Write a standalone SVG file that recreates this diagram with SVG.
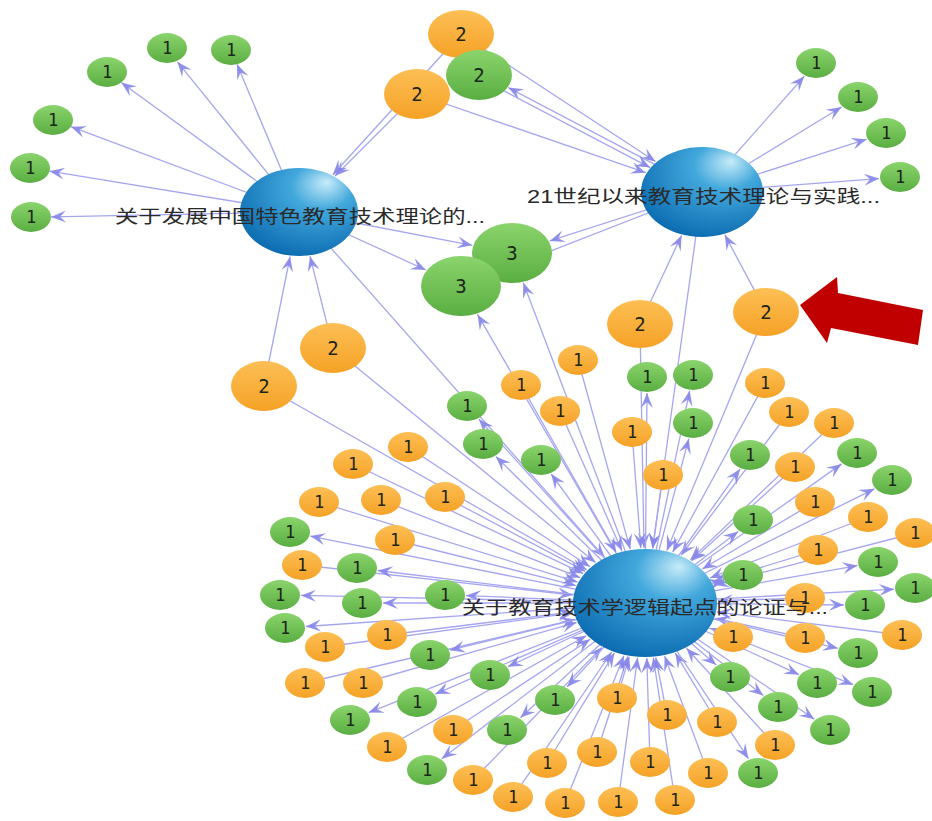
<svg xmlns="http://www.w3.org/2000/svg" width="932" height="821" viewBox="0 0 932 821">
<defs>
<radialGradient id="bg" cx="0.62" cy="0.3" r="0.75" fx="0.74" fy="0.16">
<stop offset="0" stop-color="#c8ecf9"/><stop offset="0.35" stop-color="#42a8dc"/><stop offset="1" stop-color="#0a6ab0"/>
</radialGradient>
<linearGradient id="gg" x1="0" y1="0" x2="0" y2="1"><stop offset="0" stop-color="#8ad46c"/><stop offset="1" stop-color="#5aae42"/></linearGradient>
<linearGradient id="og" x1="0" y1="0" x2="0" y2="1"><stop offset="0" stop-color="#fdbf55"/><stop offset="1" stop-color="#f5a226"/></linearGradient>
<marker id="ah" viewBox="-16 -7 17 14" refX="0" refY="0" markerWidth="17" markerHeight="14" markerUnits="userSpaceOnUse" orient="auto">
<path d="M0,0 L-15,-6 L-9,0 L-15,6 Z" fill="#8686e8" fill-opacity="0.9"/>
</marker>
<style>
.e line{stroke:#a6a6f0;stroke-width:1.3;fill:none;marker-end:url(#ah)}
.g ellipse{fill:url(#gg)}
.o ellipse{fill:url(#og)}
.b ellipse{fill:url(#bg)}
.g text,.o text{font-family:"DejaVu Sans Mono","Liberation Mono",monospace;font-size:17px;fill:#1d261a;text-anchor:middle}
.big text{font-size:19px}
.lbl{font-family:"Liberation Sans","Noto Sans CJK SC",sans-serif;font-size:18px;fill:#2a2a2a}
</style>
</defs>
<rect width="932" height="821" fill="#ffffff"/>
<g id="connectors" class="e">
<line x1="299" y1="212" x2="177.4" y2="61.8"/>
<line x1="299" y1="212" x2="237" y2="64.3"/>
<line x1="299" y1="212" x2="121.3" y2="82.5"/>
<line x1="299" y1="212" x2="70.9" y2="126.7"/>
<line x1="299" y1="212" x2="49.5" y2="171.2"/>
<line x1="299" y1="212" x2="51" y2="216.9"/>
<line x1="299" y1="212" x2="472.3" y2="245.3"/>
<line x1="299" y1="212" x2="425.9" y2="270"/>
<line x1="299" y1="212" x2="604.5" y2="557.2"/>
<line x1="264" y1="386" x2="290.1" y2="256.5"/>
<line x1="264" y1="386" x2="586.8" y2="569.8"/>
<line x1="333" y1="348" x2="310" y2="256.2"/>
<line x1="333" y1="348" x2="595.5" y2="562.6"/>
<line x1="417" y1="94" x2="335" y2="176"/>
<line x1="417" y1="94" x2="645.8" y2="172.7"/>
<line x1="461" y1="34" x2="332.8" y2="174.8"/>
<line x1="461" y1="34" x2="655.5" y2="161.5"/>
<line x1="703.2" y1="189.8" x2="508.2" y2="87.5"/>
<line x1="477.8" y1="77.2" x2="650.2" y2="167.6"/>
<line x1="640" y1="324" x2="681.6" y2="235.4"/>
<line x1="640" y1="324" x2="644" y2="548"/>
<line x1="766" y1="312" x2="724.8" y2="234.8"/>
<line x1="766" y1="312" x2="666.8" y2="550.5"/>
<line x1="702" y1="192" x2="549.7" y2="240.9"/>
<line x1="702" y1="192" x2="497.4" y2="271.8"/>
<line x1="702" y1="192" x2="804.3" y2="76.3"/>
<line x1="702" y1="192" x2="841.6" y2="107"/>
<line x1="702" y1="192" x2="866.6" y2="139.2"/>
<line x1="702" y1="192" x2="879.1" y2="178.6"/>
<line x1="702" y1="192" x2="652.6" y2="548.3"/>
<line x1="645" y1="603" x2="523.3" y2="282.8"/>
<line x1="645" y1="603" x2="477.5" y2="314.4"/>
<line x1="578" y1="360" x2="630.2" y2="549.2"/>
<line x1="521" y1="385" x2="616.2" y2="552.4"/>
<line x1="560" y1="411" x2="621.9" y2="550.8"/>
<line x1="632" y1="432" x2="640.8" y2="548.1"/>
<line x1="663" y1="475" x2="652.7" y2="548.3"/>
<line x1="765" y1="383" x2="672.7" y2="552.1"/>
<line x1="789" y1="412" x2="681.1" y2="555.2"/>
<line x1="834" y1="423" x2="690.3" y2="559.9"/>
<line x1="795" y1="467" x2="691.6" y2="560.7"/>
<line x1="815" y1="502" x2="702.3" y2="569"/>
<line x1="868" y1="517" x2="710" y2="577.9"/>
<line x1="915" y1="533" x2="714.1" y2="585.1"/>
<line x1="818" y1="550" x2="712.6" y2="582.3"/>
<line x1="805" y1="598" x2="717.9" y2="600.7"/>
<line x1="902" y1="635" x2="717" y2="612"/>
<line x1="733" y1="637" x2="710" y2="628.1"/>
<line x1="805" y1="638" x2="715.1" y2="618.3"/>
<line x1="775" y1="745" x2="686.5" y2="648.3"/>
<line x1="717" y1="722" x2="675.3" y2="653.1"/>
<line x1="667" y1="715" x2="655.7" y2="657.4"/>
<line x1="617" y1="698" x2="629.2" y2="656.7"/>
<line x1="597" y1="752" x2="627.8" y2="656.5"/>
<line x1="650" y1="762" x2="646.8" y2="658"/>
<line x1="708" y1="773" x2="664.6" y2="656"/>
<line x1="565" y1="803" x2="623.9" y2="655.7"/>
<line x1="618" y1="802" x2="637.6" y2="657.7"/>
<line x1="675" y1="800" x2="653.3" y2="657.7"/>
<line x1="513" y1="797" x2="611.7" y2="652"/>
<line x1="473" y1="780" x2="601.9" y2="647.4"/>
<line x1="547" y1="763" x2="614.4" y2="652.9"/>
<line x1="453" y1="730" x2="590.2" y2="639.3"/>
<line x1="387" y1="747" x2="586.3" y2="635.7"/>
<line x1="363" y1="683" x2="576.7" y2="622.4"/>
<line x1="305" y1="683" x2="575.3" y2="619.4"/>
<line x1="325" y1="647" x2="573.2" y2="612.9"/>
<line x1="387" y1="635" x2="573" y2="611.9"/>
<line x1="302" y1="565" x2="572.8" y2="595"/>
<line x1="395" y1="540" x2="575.8" y2="585.6"/>
<line x1="319" y1="502" x2="577.5" y2="582.1"/>
<line x1="381" y1="500" x2="580.2" y2="577.7"/>
<line x1="445" y1="497" x2="585.3" y2="571.4"/>
<line x1="353" y1="464" x2="583.3" y2="573.6"/>
<line x1="408" y1="447" x2="590" y2="566.8"/>
<line x1="645" y1="603" x2="478.9" y2="419.2"/>
<line x1="645" y1="603" x2="495.9" y2="456.6"/>
<line x1="645" y1="603" x2="551.2" y2="474"/>
<line x1="645" y1="603" x2="647" y2="393"/>
<line x1="645" y1="603" x2="689.7" y2="390.8"/>
<line x1="645" y1="603" x2="688.8" y2="438.7"/>
<line x1="645" y1="603" x2="740" y2="469.1"/>
<line x1="645" y1="603" x2="841.6" y2="463.9"/>
<line x1="645" y1="603" x2="874.4" y2="488.8"/>
<line x1="645" y1="603" x2="738.2" y2="531.4"/>
<line x1="645" y1="603" x2="857.5" y2="565.6"/>
<line x1="645" y1="603" x2="723.3" y2="580.6"/>
<line x1="645" y1="603" x2="894.1" y2="589.2"/>
<line x1="645" y1="603" x2="844" y2="605"/>
<line x1="645" y1="603" x2="837.9" y2="648.3"/>
<line x1="645" y1="603" x2="716.2" y2="665"/>
<line x1="645" y1="603" x2="799.1" y2="674.7"/>
<line x1="645" y1="603" x2="853.3" y2="684.7"/>
<line x1="645" y1="603" x2="763.3" y2="695.5"/>
<line x1="645" y1="603" x2="814.4" y2="719.3"/>
<line x1="645" y1="603" x2="748.5" y2="758.7"/>
<line x1="645" y1="603" x2="567.1" y2="686.9"/>
<line x1="645" y1="603" x2="520.4" y2="717.7"/>
<line x1="645" y1="603" x2="441.8" y2="758.7"/>
<line x1="645" y1="603" x2="368.6" y2="712.6"/>
<line x1="645" y1="603" x2="435.2" y2="694.1"/>
<line x1="645" y1="603" x2="507.9" y2="666.7"/>
<line x1="645" y1="603" x2="450" y2="650.2"/>
<line x1="645" y1="603" x2="305.9" y2="626.5"/>
<line x1="645" y1="603" x2="466" y2="595.6"/>
<line x1="645" y1="603" x2="383" y2="603"/>
<line x1="645" y1="603" x2="301" y2="595.4"/>
<line x1="645" y1="603" x2="377.7" y2="570.5"/>
<line x1="645" y1="603" x2="310.3" y2="536.1"/>
</g>
<g id="na1" class="g" transform="translate(167,48)"><ellipse rx="20" ry="15"/><text y="6">1</text></g>
<g id="na2" class="g" transform="translate(231,50)"><ellipse rx="20" ry="15"/><text y="6">1</text></g>
<g id="na3" class="g" transform="translate(107,72)"><ellipse rx="20" ry="15"/><text y="6">1</text></g>
<g id="na4" class="g" transform="translate(53,120)"><ellipse rx="20" ry="15"/><text y="6">1</text></g>
<g id="na5" class="g" transform="translate(30,168)"><ellipse rx="20" ry="15"/><text y="6">1</text></g>
<g id="na6" class="g" transform="translate(31,217)"><ellipse rx="20" ry="15"/><text y="6">1</text></g>
<g id="nb1" class="g" transform="translate(816,63)"><ellipse rx="20" ry="15"/><text y="6">1</text></g>
<g id="nb2" class="g" transform="translate(858,97)"><ellipse rx="20" ry="15"/><text y="6">1</text></g>
<g id="nb3" class="g" transform="translate(886,133)"><ellipse rx="20" ry="15"/><text y="6">1</text></g>
<g id="nb4" class="g" transform="translate(900,177)"><ellipse rx="20" ry="15"/><text y="6">1</text></g>
<g id="n2a" class="o big" transform="translate(461,34)"><ellipse rx="33" ry="24"/><text y="7">2</text></g>
<g id="n2g" class="g big" transform="translate(479,75)"><ellipse rx="33" ry="25"/><text y="7">2</text></g>
<g id="n2b" class="o big" transform="translate(417,94)"><ellipse rx="33" ry="25"/><text y="7">2</text></g>
<g id="n2c" class="o big" transform="translate(333,348)"><ellipse rx="33" ry="25"/><text y="7">2</text></g>
<g id="n2d" class="o big" transform="translate(264,386)"><ellipse rx="33" ry="25"/><text y="7">2</text></g>
<g id="n2e" class="o big" transform="translate(640,324)"><ellipse rx="33" ry="24"/><text y="7">2</text></g>
<g id="n2f" class="o big" transform="translate(766,312)"><ellipse rx="33" ry="24"/><text y="7">2</text></g>
<g id="n3a" class="g big" transform="translate(512,253)"><ellipse rx="40" ry="30"/><text y="7">3</text></g>
<g id="n3b" class="g big" transform="translate(461,286)"><ellipse rx="40" ry="30"/><text y="7">3</text></g>
<g id="o1" class="o" transform="translate(578,360)"><ellipse rx="20" ry="15"/><text y="6">1</text></g>
<g id="o2" class="o" transform="translate(521,385)"><ellipse rx="20" ry="15"/><text y="6">1</text></g>
<g id="o3" class="o" transform="translate(560,411)"><ellipse rx="20" ry="15"/><text y="6">1</text></g>
<g id="o4" class="o" transform="translate(632,432)"><ellipse rx="20" ry="15"/><text y="6">1</text></g>
<g id="o5" class="o" transform="translate(663,475)"><ellipse rx="20" ry="15"/><text y="6">1</text></g>
<g id="o6" class="o" transform="translate(765,383)"><ellipse rx="20" ry="15"/><text y="6">1</text></g>
<g id="o7" class="o" transform="translate(789,412)"><ellipse rx="20" ry="15"/><text y="6">1</text></g>
<g id="o8" class="o" transform="translate(834,423)"><ellipse rx="20" ry="15"/><text y="6">1</text></g>
<g id="o9" class="o" transform="translate(795,467)"><ellipse rx="20" ry="15"/><text y="6">1</text></g>
<g id="o10" class="o" transform="translate(815,502)"><ellipse rx="20" ry="15"/><text y="6">1</text></g>
<g id="o11" class="o" transform="translate(868,517)"><ellipse rx="20" ry="15"/><text y="6">1</text></g>
<g id="o12" class="o" transform="translate(915,533)"><ellipse rx="20" ry="15"/><text y="6">1</text></g>
<g id="o13" class="o" transform="translate(818,550)"><ellipse rx="20" ry="15"/><text y="6">1</text></g>
<g id="o14" class="o" transform="translate(805,598)"><ellipse rx="20" ry="15"/><text y="6">1</text></g>
<g id="o15" class="o" transform="translate(902,635)"><ellipse rx="20" ry="15"/><text y="6">1</text></g>
<g id="o16" class="o" transform="translate(733,637)"><ellipse rx="20" ry="15"/><text y="6">1</text></g>
<g id="o17" class="o" transform="translate(805,638)"><ellipse rx="20" ry="15"/><text y="6">1</text></g>
<g id="o18" class="o" transform="translate(775,745)"><ellipse rx="20" ry="15"/><text y="6">1</text></g>
<g id="o19" class="o" transform="translate(717,722)"><ellipse rx="20" ry="15"/><text y="6">1</text></g>
<g id="o20" class="o" transform="translate(667,715)"><ellipse rx="20" ry="15"/><text y="6">1</text></g>
<g id="o21" class="o" transform="translate(617,698)"><ellipse rx="20" ry="15"/><text y="6">1</text></g>
<g id="o22" class="o" transform="translate(597,752)"><ellipse rx="20" ry="15"/><text y="6">1</text></g>
<g id="o23" class="o" transform="translate(650,762)"><ellipse rx="20" ry="15"/><text y="6">1</text></g>
<g id="o24" class="o" transform="translate(708,773)"><ellipse rx="20" ry="15"/><text y="6">1</text></g>
<g id="o25" class="o" transform="translate(565,803)"><ellipse rx="20" ry="15"/><text y="6">1</text></g>
<g id="o26" class="o" transform="translate(618,802)"><ellipse rx="20" ry="15"/><text y="6">1</text></g>
<g id="o27" class="o" transform="translate(675,800)"><ellipse rx="20" ry="15"/><text y="6">1</text></g>
<g id="o28" class="o" transform="translate(513,797)"><ellipse rx="20" ry="15"/><text y="6">1</text></g>
<g id="o29" class="o" transform="translate(473,780)"><ellipse rx="20" ry="15"/><text y="6">1</text></g>
<g id="o30" class="o" transform="translate(547,763)"><ellipse rx="20" ry="15"/><text y="6">1</text></g>
<g id="o31" class="o" transform="translate(453,730)"><ellipse rx="20" ry="15"/><text y="6">1</text></g>
<g id="o32" class="o" transform="translate(387,747)"><ellipse rx="20" ry="15"/><text y="6">1</text></g>
<g id="o33" class="o" transform="translate(363,683)"><ellipse rx="20" ry="15"/><text y="6">1</text></g>
<g id="o34" class="o" transform="translate(305,683)"><ellipse rx="20" ry="15"/><text y="6">1</text></g>
<g id="o35" class="o" transform="translate(325,647)"><ellipse rx="20" ry="15"/><text y="6">1</text></g>
<g id="o36" class="o" transform="translate(387,635)"><ellipse rx="20" ry="15"/><text y="6">1</text></g>
<g id="o37" class="o" transform="translate(302,565)"><ellipse rx="20" ry="15"/><text y="6">1</text></g>
<g id="o38" class="o" transform="translate(395,540)"><ellipse rx="20" ry="15"/><text y="6">1</text></g>
<g id="o39" class="o" transform="translate(319,502)"><ellipse rx="20" ry="15"/><text y="6">1</text></g>
<g id="o40" class="o" transform="translate(381,500)"><ellipse rx="20" ry="15"/><text y="6">1</text></g>
<g id="o41" class="o" transform="translate(445,497)"><ellipse rx="20" ry="15"/><text y="6">1</text></g>
<g id="o42" class="o" transform="translate(353,464)"><ellipse rx="20" ry="15"/><text y="6">1</text></g>
<g id="o43" class="o" transform="translate(408,447)"><ellipse rx="20" ry="15"/><text y="6">1</text></g>
<g id="g1" class="g" transform="translate(467,406)"><ellipse rx="20" ry="15"/><text y="6">1</text></g>
<g id="g2" class="g" transform="translate(483,444)"><ellipse rx="20" ry="15"/><text y="6">1</text></g>
<g id="g3" class="g" transform="translate(541,460)"><ellipse rx="20" ry="15"/><text y="6">1</text></g>
<g id="g4" class="g" transform="translate(647,377)"><ellipse rx="20" ry="15"/><text y="6">1</text></g>
<g id="g5" class="g" transform="translate(693,375)"><ellipse rx="20" ry="15"/><text y="6">1</text></g>
<g id="g6" class="g" transform="translate(693,423)"><ellipse rx="20" ry="15"/><text y="6">1</text></g>
<g id="g7" class="g" transform="translate(750,455)"><ellipse rx="20" ry="15"/><text y="6">1</text></g>
<g id="g8" class="g" transform="translate(857,453)"><ellipse rx="20" ry="15"/><text y="6">1</text></g>
<g id="g9" class="g" transform="translate(892,480)"><ellipse rx="20" ry="15"/><text y="6">1</text></g>
<g id="g10" class="g" transform="translate(753,520)"><ellipse rx="20" ry="15"/><text y="6">1</text></g>
<g id="g11" class="g" transform="translate(878,562)"><ellipse rx="20" ry="15"/><text y="6">1</text></g>
<g id="g12" class="g" transform="translate(743,575)"><ellipse rx="20" ry="15"/><text y="6">1</text></g>
<g id="g13" class="g" transform="translate(915,588)"><ellipse rx="20" ry="15"/><text y="6">1</text></g>
<g id="g14" class="g" transform="translate(865,605)"><ellipse rx="20" ry="15"/><text y="6">1</text></g>
<g id="g15" class="g" transform="translate(858,653)"><ellipse rx="20" ry="15"/><text y="6">1</text></g>
<g id="g16" class="g" transform="translate(730,677)"><ellipse rx="20" ry="15"/><text y="6">1</text></g>
<g id="g17" class="g" transform="translate(817,683)"><ellipse rx="20" ry="15"/><text y="6">1</text></g>
<g id="g18" class="g" transform="translate(872,692)"><ellipse rx="20" ry="15"/><text y="6">1</text></g>
<g id="g19" class="g" transform="translate(778,707)"><ellipse rx="20" ry="15"/><text y="6">1</text></g>
<g id="g20" class="g" transform="translate(830,730)"><ellipse rx="20" ry="15"/><text y="6">1</text></g>
<g id="g21" class="g" transform="translate(758,773)"><ellipse rx="20" ry="15"/><text y="6">1</text></g>
<g id="g22" class="g" transform="translate(555,700)"><ellipse rx="20" ry="15"/><text y="6">1</text></g>
<g id="g23" class="g" transform="translate(507,730)"><ellipse rx="20" ry="15"/><text y="6">1</text></g>
<g id="g24" class="g" transform="translate(427,770)"><ellipse rx="20" ry="15"/><text y="6">1</text></g>
<g id="g25" class="g" transform="translate(350,720)"><ellipse rx="20" ry="15"/><text y="6">1</text></g>
<g id="g26" class="g" transform="translate(417,702)"><ellipse rx="20" ry="15"/><text y="6">1</text></g>
<g id="g27" class="g" transform="translate(490,675)"><ellipse rx="20" ry="15"/><text y="6">1</text></g>
<g id="g28" class="g" transform="translate(430,655)"><ellipse rx="20" ry="15"/><text y="6">1</text></g>
<g id="g29" class="g" transform="translate(285,628)"><ellipse rx="20" ry="15"/><text y="6">1</text></g>
<g id="g30" class="g" transform="translate(445,595)"><ellipse rx="20" ry="15"/><text y="6">1</text></g>
<g id="g31" class="g" transform="translate(362,603)"><ellipse rx="20" ry="15"/><text y="6">1</text></g>
<g id="g32" class="g" transform="translate(280,595)"><ellipse rx="20" ry="15"/><text y="6">1</text></g>
<g id="g33" class="g" transform="translate(357,568)"><ellipse rx="20" ry="15"/><text y="6">1</text></g>
<g id="g34" class="g" transform="translate(290,532)"><ellipse rx="20" ry="15"/><text y="6">1</text></g>
<g id="nodeA" class="b"><ellipse cx="299" cy="212" rx="59" ry="44"/><text class="lbl" x="115" y="223" textLength="370" lengthAdjust="spacingAndGlyphs">关于发展中国特色教育技术理论的...</text></g>
<g id="nodeB" class="b"><ellipse cx="702" cy="192" rx="61" ry="45"/><text class="lbl" x="527" y="203" textLength="353" lengthAdjust="spacingAndGlyphs">21世纪以来教育技术理论与实践...</text></g>
<g id="nodeC" class="b"><ellipse cx="645" cy="603" rx="72" ry="54"/><text class="lbl" x="462" y="614" textLength="366" lengthAdjust="spacingAndGlyphs">关于教育技术学逻辑起点的论证与...</text></g>
<polygon id="red-arrow" points="800,305 837,277 838,293 923,310 918,345 831,328 827,343" fill="#c00000"/>
</svg>
